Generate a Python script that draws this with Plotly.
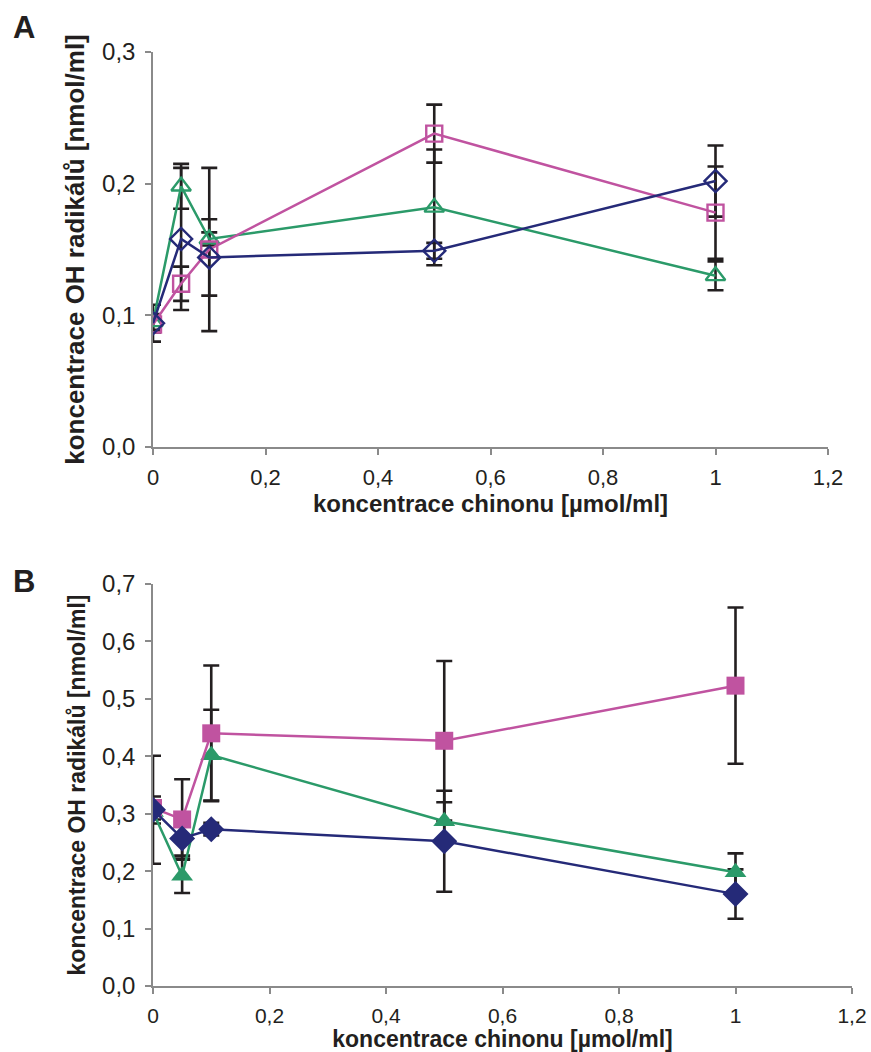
import plotly.graph_objects as go

# ---------------- data ----------------
conc = [0, 0.05, 0.1, 0.5, 1]

# Panel A
a_blue = [0.094, 0.158, 0.144, 0.149, 0.202]
a_blue_err = [0.014, 0.054, 0.029, 0.006, 0.027]
a_pink = [0.093, 0.124, 0.150, 0.238, 0.178]
a_pink_err = [0.006, 0.013, 0.062, 0.022, 0.035]
a_green = [0.095, 0.198, 0.158, 0.182, 0.130]
a_green_err = [0.006, 0.017, 0.005, 0.044, 0.011]

# Panel B
b_blue = [0.307, 0.257, 0.273, 0.252, 0.160]
b_blue_err = [0.094, 0.030, 0.011, 0.088, 0.043]
b_pink = [0.310, 0.290, 0.440, 0.427, 0.523]
b_pink_err = [0.020, 0.070, 0.118, 0.139, 0.136]
b_green = [0.303, 0.192, 0.402, 0.287, 0.198]
b_green_err = [0.020, 0.030, 0.079, 0.033, 0.033]

x_tickvals = [0, 0.2, 0.4, 0.6, 0.8, 1, 1.2]
x_ticktext = ["0", "0,2", "0,4", "0,6", "0,8", "1", "1,2"]
a_ytickvals = [0, 0.1, 0.2, 0.3]
a_yticktext = ["0,0", "0,1", "0,2", "0,3"]
b_ytickvals = [0, 0.1, 0.2, 0.3, 0.4, 0.5, 0.6, 0.7]
b_yticktext = ["0,0", "0,1", "0,2", "0,3", "0,4", "0,5", "0,6", "0,7"]

x_title = "koncentrace chinonu [µmol/ml]"
y_title = "koncentrace OH radikálů [nmol/ml]"

# ---------------- style ----------------
BLUE = "#252a78"
PINK = "#c053a0"
GREEN = "#2b9a69"
BAR = "#231f20"
AXIS = "#8a8a8a"
TXT = "#231f20"
FONT = "Liberation Sans, Arial, Helvetica, sans-serif"

fig = go.Figure()

def err_trace(y, err, xa, ya):
    return go.Scatter(
        x=conc, y=y, mode="markers", xaxis=xa, yaxis=ya,
        marker=dict(size=1, color="rgba(0,0,0,0)"),
        error_y=dict(type="data", array=err, visible=True, color=BAR,
                     thickness=2.6, width=8),
        hoverinfo="skip", showlegend=False)

# error bars first (beneath data)
for y, e in [(a_green, a_green_err), (a_pink, a_pink_err), (a_blue, a_blue_err)]:
    fig.add_trace(err_trace(y, e, "x", "y"))
for y, e in [(b_green, b_green_err), (b_pink, b_pink_err), (b_blue, b_blue_err)]:
    fig.add_trace(err_trace(y, e, "x2", "y2"))

# Panel A: open markers
a_series = [
    (a_green, GREEN, "triangle-up-open", 17),
    (a_pink, PINK, "square-open", 16),
    (a_blue, BLUE, "diamond-open", 17),
]
for y, c, sym, sz in a_series:
    fig.add_trace(go.Scatter(
        x=conc, y=y, mode="lines+markers", xaxis="x", yaxis="y",
        line=dict(color=c, width=2.5),
        marker=dict(symbol=sym, size=sz, color=c, line=dict(color=c, width=2.4)),
        showlegend=False))

# Panel B: filled markers
b_series = [
    (b_green, GREEN, "triangle-up", 19),
    (b_pink, PINK, "square", 18),
    (b_blue, BLUE, "diamond", 20),
]
for y, c, sym, sz in b_series:
    fig.add_trace(go.Scatter(
        x=conc, y=y, mode="lines+markers", xaxis="x2", yaxis="y2",
        line=dict(color=c, width=2.5),
        marker=dict(symbol=sym, size=sz, color=c, line=dict(width=0)),
        showlegend=False))

W, H = 871, 1052

def xaxis_cfg(domain, anchor, tick_size, title_size, standoff):
    return dict(
        domain=domain, anchor=anchor, range=[0, 1.2],
        tickvals=x_tickvals, ticktext=x_ticktext,
        showline=True, linecolor=AXIS, linewidth=1.5,
        ticks="outside", ticklen=6, tickcolor=AXIS, tickwidth=1.5,
        showgrid=False, zeroline=False,
        tickfont=dict(family=FONT, size=tick_size, color=TXT),
        ticklabelstandoff=4,
        title=dict(text="<b>" + x_title + "</b>",
                   font=dict(family=FONT, size=title_size, color=TXT),
                   standoff=standoff),
        automargin=False, fixedrange=True)

def yaxis_cfg(domain, anchor, rng, tv, tt, tsize):
    return dict(
        domain=domain, anchor=anchor, range=rng,
        tickvals=tv, ticktext=tt,
        showline=True, linecolor=AXIS, linewidth=1.5,
        ticks="outside", ticklen=6, tickcolor=AXIS, tickwidth=1.5,
        showgrid=False, zeroline=False,
        tickfont=dict(family=FONT, size=24, color=TXT),
        ticklabelstandoff=5,
        title=dict(text="<b>" + y_title + "</b>",
                   font=dict(family=FONT, size=tsize, color=TXT),
                   standoff=10),
        automargin=False, fixedrange=True)

fig.update_layout(
    width=W, height=H,
    margin=dict(l=0, r=0, t=0, b=0),
    paper_bgcolor="white", plot_bgcolor="white",
    separators=", ",
    showlegend=False,
    xaxis=xaxis_cfg([153 / W, 828 / W], "y", 22, 24, 0),
    yaxis=yaxis_cfg([1 - 447 / H, 1 - 52 / H], "x", [0, 0.3],
                    a_ytickvals, a_yticktext, 26),
    xaxis2=xaxis_cfg([153 / W, 852 / W], "y2", 21, 23, 2),
    yaxis2=yaxis_cfg([1 - 986 / H, 1 - 584 / H], "x2", [0, 0.7],
                     b_ytickvals, b_yticktext, 23),
    annotations=[
        dict(text="<b>A</b>", x=11 / W, y=1 - 8 / H, xref="paper", yref="paper",
             xanchor="left", yanchor="top", showarrow=False,
             font=dict(family=FONT, size=31, color=TXT)),
        dict(text="<b>B</b>", x=11 / W, y=1 - 562 / H, xref="paper", yref="paper",
             xanchor="left", yanchor="top", showarrow=False,
             font=dict(family=FONT, size=31, color=TXT)),
    ],
)

fig.write_html(
    "out.html",
    config={"displayModeBar": False},
    post_script="document.body.style.margin='0';document.body.style.overflow='hidden';",
)
